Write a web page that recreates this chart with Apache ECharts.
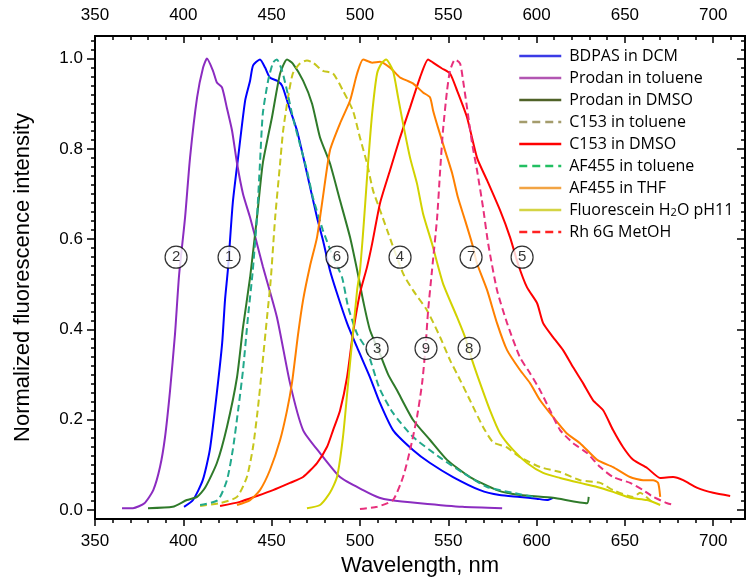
<!DOCTYPE html>
<html>
<head>
<meta charset="utf-8">
<title>Normalized fluorescence</title>
<script src="https://cdn.jsdelivr.net/npm/echarts@6.0.0/dist/echarts.min.js"></script>
<style>
    html, body { margin: 0; padding: 0; background: #fff; }
    #chart { width: 746px; height: 585px; }
</style>
</head>
<body>
<div id="chart"></div>
<script>
// axis ranges and ticks
var X_MIN = 350, X_MAX = 718;
var Y_MIN = -0.02, Y_MAX = 1.05;
var xMajor = [350, 400, 450, 500, 550, 600, 650, 700];
var xMinor = [360, 370, 380, 390, 410, 420, 430, 440, 460, 470, 480, 490, 510, 520, 530, 540,
              560, 570, 580, 590, 610, 620, 630, 640, 660, 670, 680, 690, 710];
var yMajor = [0, 0.2, 0.4, 0.6, 0.8, 1.0];
var yMinor = [0.02, 0.04, 0.06, 0.08, 0.1, 0.12, 0.14, 0.16, 0.18, 0.22, 0.24, 0.26, 0.28, 0.3,
              0.32, 0.34, 0.36, 0.38, 0.42, 0.44, 0.46, 0.48, 0.5, 0.52, 0.54, 0.56, 0.58,
              0.62, 0.64, 0.66, 0.68, 0.7, 0.72, 0.74, 0.76, 0.78, 0.82, 0.84, 0.86, 0.88,
              0.9, 0.92, 0.94, 0.96, 0.98, 1.02, 1.04];

// spectra: [wavelength nm, normalized intensity]
var bdpasDcm = [[400.4,0.007],[405.5,0.022],[411,0.066],[415,0.133],[419,0.26],[422,0.37],[423.6,0.465],
    [425.3,0.535],[428,0.68],[431,0.78],[435,0.907],[437.8,0.951],[439.5,0.985],[443.4,0.998],[446.3,0.98],
    [449,0.958],[453,0.951],[455.9,0.94],[459.3,0.9],[464.4,0.84],[470,0.746],[475.7,0.648],[479.1,0.597],
    [483,0.531],[487,0.48],[492.7,0.414],[498.4,0.36],[505.7,0.294],[511,0.24],[518.7,0.177],[530,0.133],
    [539.7,0.104],[552.7,0.073],[568,0.044],[579,0.033],[590.6,0.029],[600,0.025],[606,0.022],[609.3,0.027]];
var prodanToluene = [[365.3,0.004],[371.5,0.004],[378,0.015],[383,0.044],[386.8,0.095],[389.6,0.16],
    [392.5,0.265],[395.3,0.39],[397.6,0.52],[401,0.648],[403.8,0.78],[407.8,0.914],[411.2,0.98],[413.4,1.0],
    [416.8,0.973],[419,0.947],[421.9,0.936],[424.7,0.89],[427.6,0.84],[430.4,0.768],[433.8,0.7],[437.8,0.648],
    [441.7,0.59],[445,0.54],[453,0.427],[460.4,0.281],[467.8,0.177],[477.4,0.126],[488.7,0.073],[501.8,0.044],
    [511,0.027],[517,0.022],[534,0.015],[558,0.007],[580.5,0.004]];
var prodanDmso = [[380,0.004],[394,0.007],[402,0.022],[407.8,0.029],[412.3,0.049],[419,0.104],[424.7,0.184],
    [430.4,0.294],[433.8,0.405],[437.8,0.515],[441.7,0.648],[445,0.768],[450.2,0.87],[454.8,0.967],[458.7,0.998],
    [462,0.989],[467.8,0.951],[472.9,0.9],[477.4,0.825],[483,0.768],[488.7,0.686],[494.4,0.604],[499,0.52],
    [502,0.46],[505.7,0.398],[511.4,0.345],[516,0.3],[521,0.265],[530,0.2],[539.7,0.155],[549.3,0.111],
    [562.3,0.073],[577.6,0.044],[590.6,0.033],[609.3,0.027],[628.6,0.015],[629.5,0.029]];
var c153Toluene = [[409.5,0.009],[420.8,0.015],[430.4,0.029],[436,0.073],[439.5,0.14],[442.3,0.228],
    [444.6,0.316],[447.4,0.427],[449.5,0.51],[452,0.648],[454.8,0.768],[456.5,0.84],[459.3,0.914],[462,0.967],
    [466,0.989],[470,0.996],[473.4,0.991],[479,0.973],[484.8,0.967],[490.4,0.929],[496,0.885],[500,0.825],
    [504,0.768],[507.4,0.708],[511.4,0.664],[515.4,0.62],[524.4,0.524],[530,0.487],[538,0.442],[545.4,0.383],
    [551,0.332],[556.7,0.288],[562.3,0.243],[569.7,0.184],[575.4,0.15],[583,0.139],[590.6,0.117],[602,0.095],
    [613.3,0.084],[624.6,0.066],[636,0.06],[643.3,0.044],[654.7,0.029],[658.6,0.038],[666,0.015]];
var c153Dmso = [[420.8,0.009],[432,0.018],[441.7,0.031],[450.8,0.044],[460.4,0.06],[467.8,0.073],[475.7,0.104],
    [481.4,0.14],[484.8,0.177],[488.7,0.22],[492.7,0.294],[496,0.39],[500,0.48],[504,0.538],[506.9,0.59],
    [511.4,0.68],[517,0.752],[522.7,0.825],[528.4,0.892],[534,0.958],[538.6,0.998],[541.4,0.991],[546.5,0.978],
    [551,0.967],[555,0.929],[560.6,0.87],[566.3,0.78],[572,0.73],[579.3,0.664],[585,0.604],[589.5,0.545],
    [594.6,0.493],[600.3,0.458],[603.7,0.414],[609.3,0.383],[615,0.354],[620.7,0.316],[626.3,0.281],[632,0.243],
    [637.7,0.221],[643.3,0.177],[649,0.139],[654.7,0.111],[662.6,0.093],[670,0.071],[677.3,0.073],[683,0.066],
    [691,0.049],[700,0.038],[709.6,0.031]];
var af455Toluene = [[409.5,0.011],[419.6,0.022],[424.7,0.066],[428,0.133],[431,0.22],[433.8,0.31],[436.6,0.427],
    [439.2,0.525],[441.7,0.648],[443.4,0.768],[445,0.878],[448,0.951],[450.8,0.991],[453,0.998],[455.9,0.973],
    [458.7,0.929],[462,0.87],[466,0.81],[470,0.752],[473.4,0.692],[479,0.62],[484.8,0.56],[489.9,0.515],
    [493.3,0.45],[498.4,0.39],[504,0.354],[511,0.27],[518.7,0.215],[530,0.162],[545,0.117],[558.4,0.082],
    [572,0.051],[586.7,0.038],[598,0.029]];
var af455Thf = [[430.4,0.011],[437.8,0.022],[443.4,0.044],[449,0.088],[454.8,0.155],[458.7,0.22],[461.5,0.281],
    [465,0.39],[467.8,0.465],[471.7,0.54],[475.7,0.604],[479,0.692],[483,0.796],[488.7,0.856],[494.4,0.907],
    [498.4,0.967],[501.8,0.998],[506.9,0.991],[511.4,0.993],[517,0.98],[522.7,0.958],[526.7,0.951],[530,0.945],
    [535.7,0.925],[539.7,0.914],[541.4,0.885],[544.2,0.847],[548.2,0.796],[552.2,0.746],[555.5,0.692],
    [559.5,0.642],[563.5,0.59],[566.3,0.546],[572,0.487],[577.6,0.414],[583.3,0.354],[590.6,0.31],[596.3,0.281],
    [602,0.243],[609.3,0.206],[617,0.17],[624.6,0.148],[634.3,0.111],[643.3,0.095],[652.9,0.073],[660.3,0.066],
    [666,0.066],[668.8,0.06],[670,0.029]];
var fluorescein = [[470,0.004],[477.4,0.011],[483,0.038],[487,0.073],[490.4,0.162],[493.3,0.281],[496,0.39],
    [498.4,0.487],[500,0.53],[501.5,0.6],[503,0.68],[504.6,0.768],[506.9,0.878],[509.7,0.967],[512.5,0.991],
    [514.8,0.998],[518.7,0.973],[521.6,0.914],[524.4,0.856],[528.4,0.78],[532.3,0.723],[535.7,0.657],
    [540.8,0.59],[547,0.502],[555,0.427],[559.5,0.383],[563.5,0.332],[568,0.281],[573.7,0.22],[579.3,0.17],
    [586.7,0.133],[594.6,0.104],[603.7,0.082],[613.3,0.071],[624.6,0.06],[634.3,0.051],[643.3,0.04],
    [653,0.027],[662.6,0.022],[670,0.011]];
var rh6gMeoh = [[500,0.002],[509.7,0.007],[518.7,0.022],[524.4,0.073],[528.4,0.133],[532.3,0.206],[535.2,0.281],
    [537,0.354],[538.6,0.442],[540.8,0.531],[543.7,0.648],[545.4,0.752],[547,0.84],[549.3,0.929],[551,0.973],
    [553.8,0.998],[556.7,0.989],[558.4,0.951],[560.6,0.892],[563.5,0.812],[566.3,0.752],[569.7,0.67],
    [572.6,0.59],[577.6,0.487],[583.3,0.414],[590.6,0.338],[596.3,0.303],[602,0.265],[607.6,0.221],
    [613.3,0.177],[620.7,0.148],[628.6,0.126],[636,0.095],[643.3,0.073],[653,0.06],[660.3,0.044],[666,0.029],
    [674,0.015],[678.4,0.011]];

// circled curve numbers: [nm, value, number]
var curveTags = [[425.9,0.56,'1'],[395.9,0.56,'2'],[509.7,0.358,'3'],[522.7,0.56,'4'],[591.8,0.56,'5'],
    [487,0.56,'6'],[562.9,0.56,'7'],[561.8,0.358,'8'],[537.4,0.358,'9']];

var FONT = '"Liberation Sans", Arial, sans-serif';
var LEGEND_FONT = '"Open Sans", sans-serif';

var curves = [
    {name: 'BDPAS in DCM', data: bdpasDcm, color: '#0000ff', legend: '#3b3be6', dash: false},
    {name: 'Prodan in toluene', data: prodanToluene, color: '#8b2cc0', legend: '#b256b2', dash: false},
    {name: 'Prodan in DMSO', data: prodanDmso, color: '#2f7a2a', legend: '#4f6228', dash: false},
    {name: 'C153 in toluene', data: c153Toluene, color: '#c6c61c', legend: '#a49c6c', dash: true},
    {name: 'C153 in DMSO', data: c153Dmso, color: '#ff0000', legend: '#ff0000', dash: false},
    {name: 'AF455 in toluene', data: af455Toluene, color: '#22a98c', legend: '#22bf62', dash: true},
    {name: 'AF455 in THF', data: af455Thf, color: '#ff8000', legend: '#f2a444', dash: false},
    {name: 'Fluorescein H2O pH11', data: fluorescein, color: '#d2d200', legend: '#d4d444', dash: false},
    {name: 'Rh 6G MetOH', data: rh6gMeoh, color: '#e8307c', legend: '#ff2222', dash: true}
];

var init_chart = function () {
    var chart = echarts.init(document.getElementById('chart'));

    var seriesList = curves.map(function (c) {
        return {
            name: c.name,
            type: 'line',
            data: c.data,
            symbol: 'none',
            smooth: 0.2,
            color: c.color,
            lineStyle: {color: c.color, width: 2, type: c.dash ? [7, 4] : 'solid'}
        };
    });
    // circled numbers on top of the curves
    seriesList.push({
        name: 'tags',
        type: 'scatter',
        data: curveTags,
        symbol: 'circle',
        symbolSize: 22,
        z: 10,
        itemStyle: {color: '#fff', borderColor: '#000', borderWidth: 1.2},
        label: {
            show: true, position: 'inside', color: '#000', fontSize: 15, fontFamily: FONT,
            formatter: function (p) { return p.data[2]; }
        }
    });

    var xAxisBase = function (pos, ticks, len, labels) {
        return {
            type: 'value', position: pos, min: X_MIN, max: X_MAX,
            axisLine: {show: labels, onZero: false, lineStyle: {color: '#000', width: 2}},
            axisTick: {show: true, customValues: ticks, length: len, inside: pos === 'top',
                lineStyle: {color: '#000', width: 1.5}},
            axisLabel: {show: labels, customValues: ticks, fontSize: 17, color: '#000',
                fontFamily: FONT, margin: pos === 'top' ? 12 : 14},
            splitLine: {show: false}
        };
    };
    var yAxisBase = function (pos, ticks, len, labels) {
        return {
            type: 'value', position: pos, min: Y_MIN, max: Y_MAX,
            axisLine: {show: true, onZero: false, lineStyle: {color: '#000', width: 2}},
            axisTick: {show: true, customValues: ticks, length: len, inside: pos === 'right',
                lineStyle: {color: '#000', width: 1.5}},
            axisLabel: {show: labels, customValues: ticks, fontSize: 17, color: '#000',
                fontFamily: FONT, margin: 12,
                formatter: function (v) { return v.toFixed(1); }},
            splitLine: {show: false}
        };
    };

    var xBottom = xAxisBase('bottom', xMajor, 7, true);
    xBottom.name = 'Wavelength, nm';
    xBottom.nameLocation = 'middle';
    xBottom.nameGap = 35;
    xBottom.nameTextStyle = {fontSize: 22, color: '#000', fontFamily: FONT};

    var yLeft = yAxisBase('left', yMajor, 8, true);
    yLeft.name = 'Normalized fluorescence intensity';
    yLeft.nameLocation = 'middle';
    yLeft.nameGap = 61;
    yLeft.nameTextStyle = {fontSize: 22, color: '#000', fontFamily: FONT};

    var option = {
        animation: false,
        backgroundColor: '#fff',
        grid: {left: 95, right: 1, top: 36, bottom: 66},
        legend: {
            orient: 'vertical',
            left: 518,
            top: 48,
            padding: 0,
            itemWidth: 42,
            itemHeight: 14,
            itemGap: 6,
            selectedMode: false,
            data: curves.map(function (c) {
                return {
                    name: c.name,
                    itemStyle: {opacity: 0, borderWidth: 0},
                    lineStyle: {color: c.legend, width: 2.5, type: c.dash ? [8, 5] : 'solid'}
                };
            }),
            formatter: function (name) {
                if (name === 'Fluorescein H2O pH11') {
                    return '{n|Fluorescein H}{s|2}{n|O pH11}';
                }
                return name;
            },
            textStyle: {
                fontSize: 16, color: '#000', fontFamily: LEGEND_FONT, padding: [0, 0, 0, 3],
                rich: {
                    n: {fontSize: 16, color: '#000', fontFamily: LEGEND_FONT},
                    s: {fontSize: 11, color: '#000', fontFamily: LEGEND_FONT, verticalAlign: 'bottom'}
                }
            }
        },
        xAxis: [
            xBottom,
            xAxisBase('bottom', xMinor, 4, false),
            xAxisBase('top', xMajor, 7, true),
            xAxisBase('top', xMinor, 4, false)
        ],
        yAxis: [
            yLeft,
            yAxisBase('left', yMinor, 4, false),
            yAxisBase('right', yMajor, 8, false),
            yAxisBase('right', yMinor, 4, false)
        ],
        series: seriesList
    };

    chart.setOption(option);
};

init_chart();
</script>
</body>
</html>
